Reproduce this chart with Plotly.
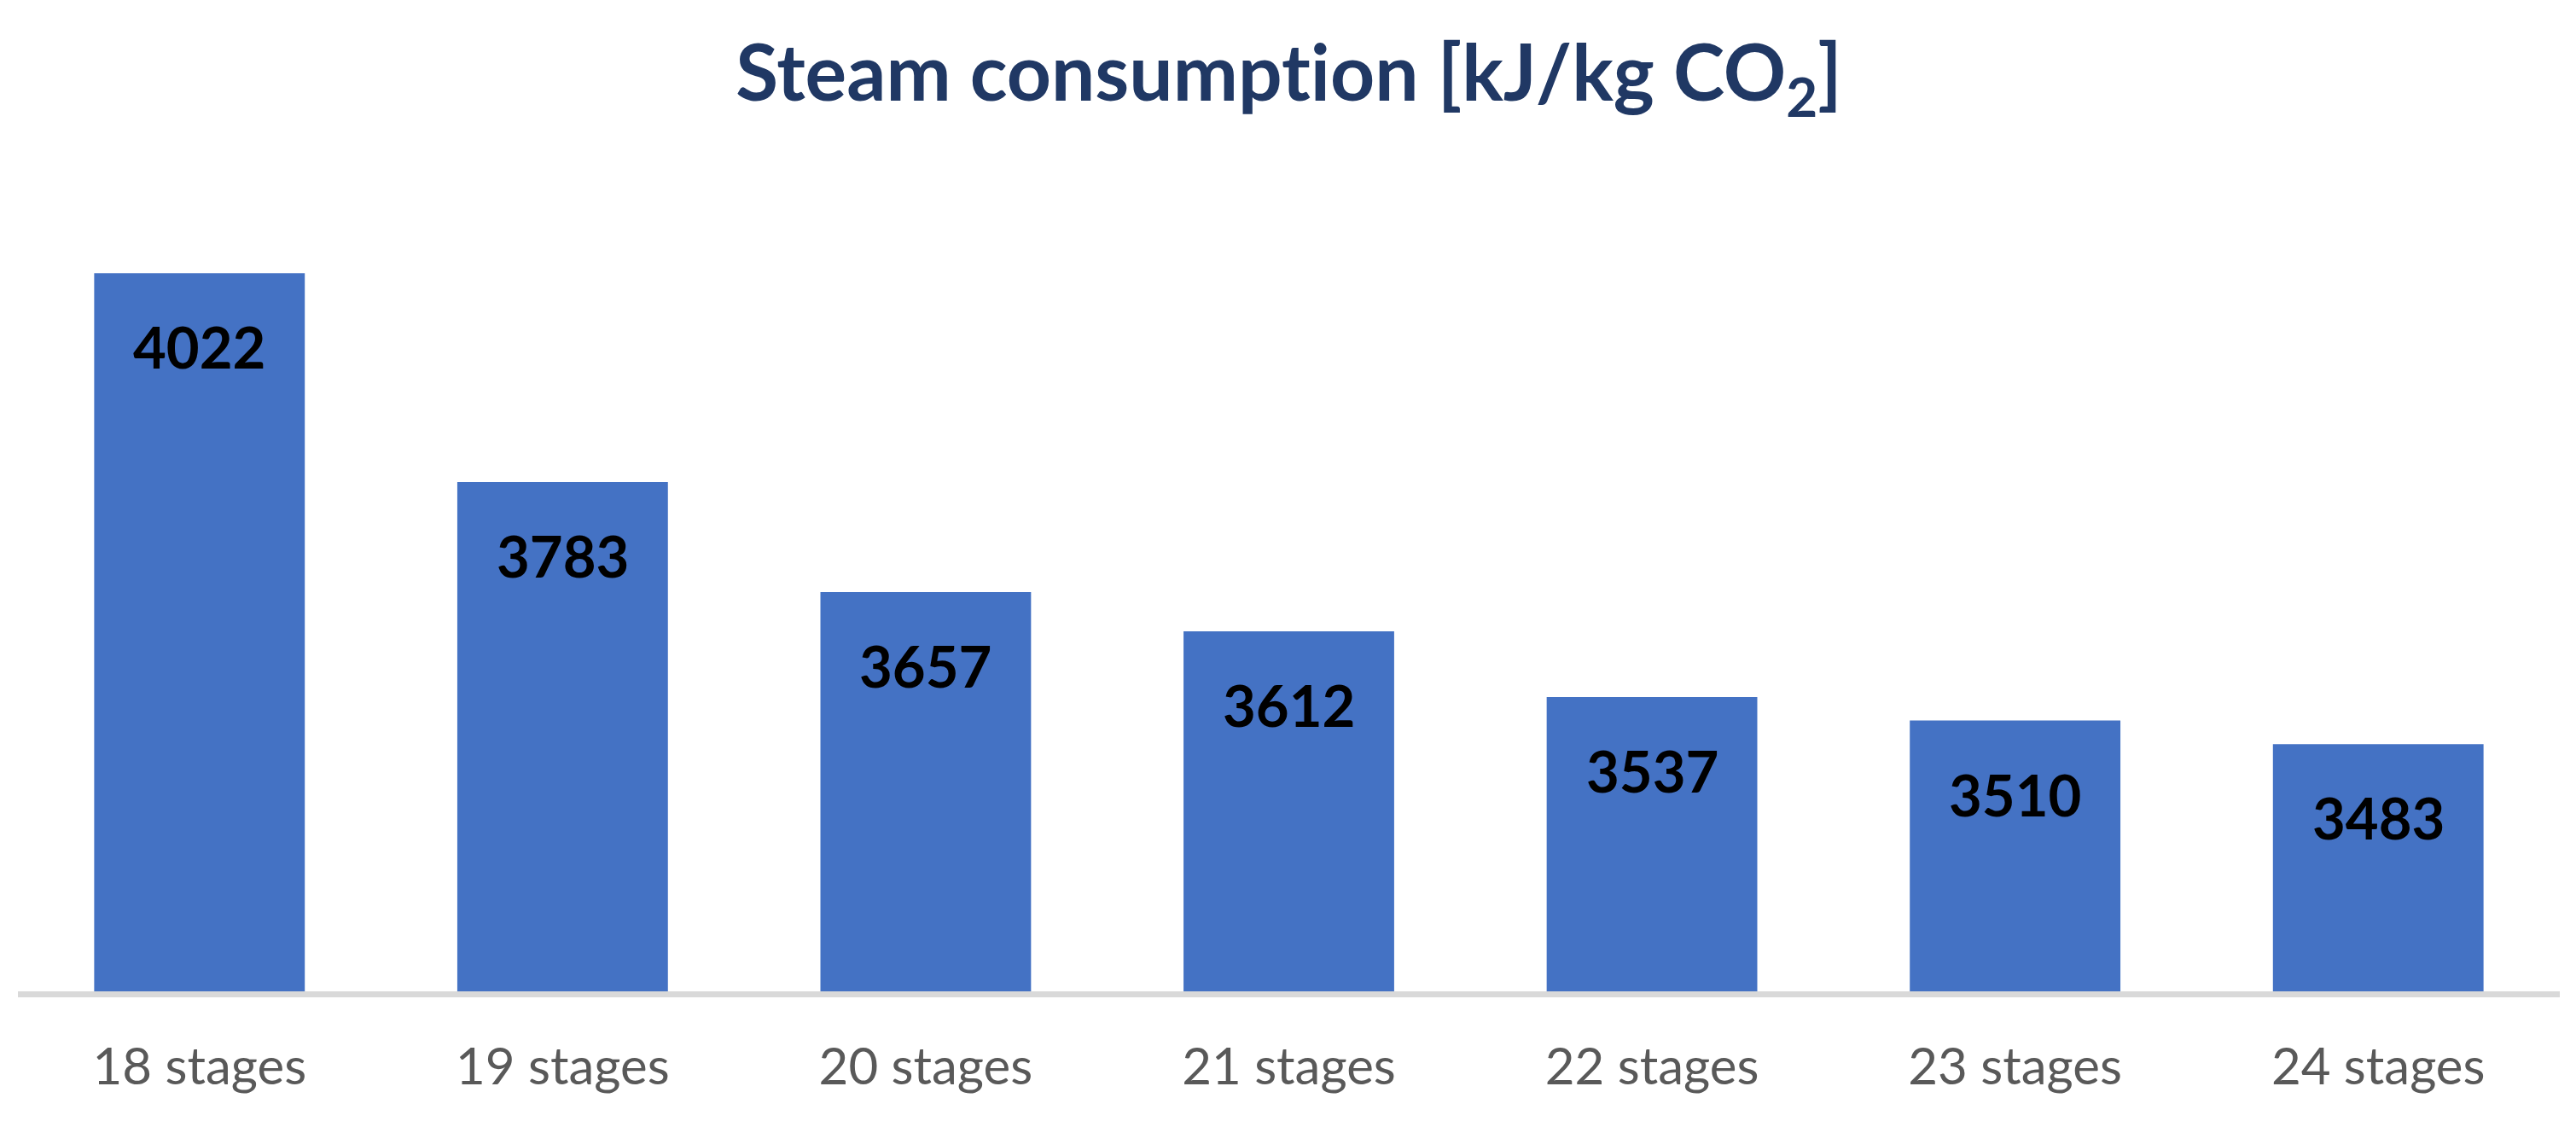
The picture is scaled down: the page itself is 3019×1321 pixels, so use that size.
import plotly.graph_objects as go

categories = ["18 stages", "19 stages", "20 stages", "21 stages", "22 stages", "23 stages", "24 stages"]
values = [4022, 3783, 3657, 3612, 3537, 3510, 3483]
# zero-width non-joiner prevents the "ti" ligature of the substitute font
title_text = "Steam consumpt\u200cion [kJ/kg CO<sub>2</sub>]"

BAR_COLOR = "#4472C4"
TITLE_COLOR = "#203864"
TICK_COLOR = "#595959"
AXIS_COLOR = "#D9D9D9"
FONT = "Lato"

fig = go.Figure()
fig.add_trace(go.Bar(
    x=categories,
    y=values,
    marker=dict(color=BAR_COLOR, line=dict(width=0)),
    hoverinfo="x+y",
))

for c, v in zip(categories, values):
    fig.add_annotation(
        x=c, y=v, xref="x", yref="y",
        text=f"<b>{v}</b>",
        showarrow=False,
        yshift=-86,
        yanchor="middle",
        font=dict(family=FONT, size=67, color="#000000"),
    )

fig.update_layout(
    width=3019,
    height=1321,
    margin=dict(l=13, r=27, t=130, b=167),
    paper_bgcolor="white",
    plot_bgcolor="white",
    showlegend=False,
    bargap=0.42,
    title=dict(
        text=f"<b>{title_text}</b>",
        x=0.5,
        xanchor="center",
        xref="paper",
        y=1 - 78 / 1321,
        yref="container",
        yanchor="middle",
        font=dict(family=FONT, size=91, color=TITLE_COLOR),
    ),
    xaxis=dict(
        type="category",
        range=[-0.5, 6.5],
        showgrid=False,
        showline=True,
        linecolor=AXIS_COLOR,
        linewidth=7,
        ticks="outside",
        ticklen=30,
        tickcolor="rgba(0,0,0,0)",
        tickfont=dict(family=FONT, size=60, color=TICK_COLOR),
        zeroline=False,
    ),
    yaxis=dict(
        range=[3200, 4200],
        visible=False,
        showgrid=False,
        zeroline=False,
    ),
)

fig.write_html("out.html")
